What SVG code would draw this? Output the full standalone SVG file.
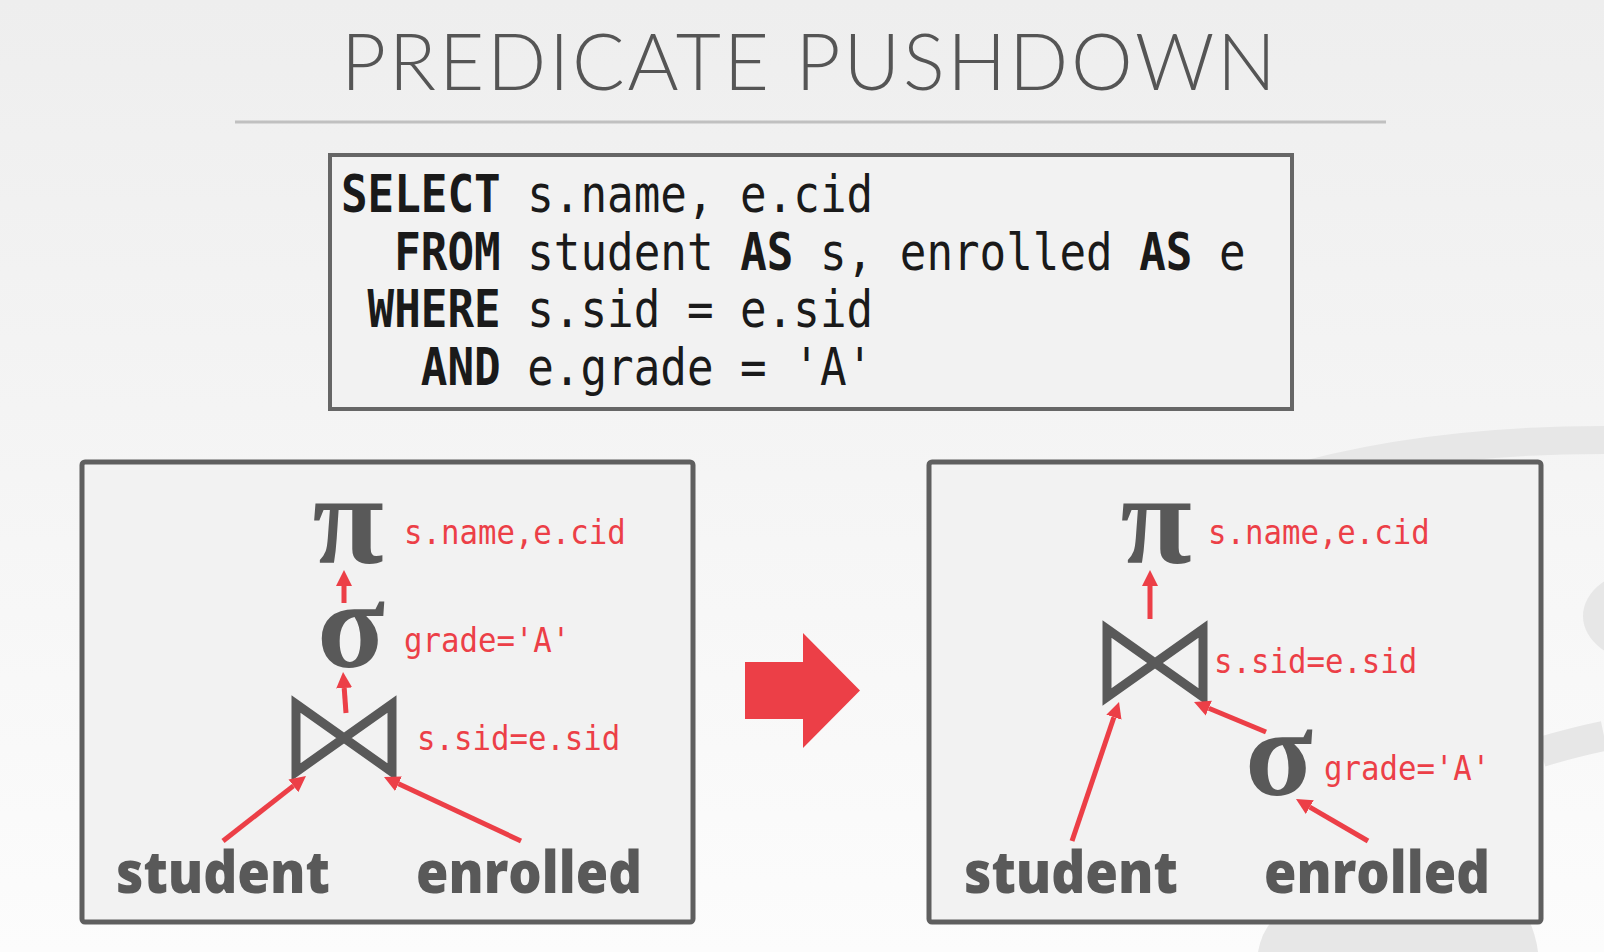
<svg xmlns="http://www.w3.org/2000/svg" width="1604" height="952" viewBox="0 0 1604 952">
<defs>
<linearGradient id="bg" x1="0" y1="0" x2="0" y2="1">
<stop offset="0" stop-color="#eeeeee"/>
<stop offset="1" stop-color="#fcfcfc"/>
</linearGradient>
<marker id="ah" viewBox="0 0 10 10" refX="0" refY="5" markerWidth="16" markerHeight="17" markerUnits="userSpaceOnUse" orient="auto">
<path d="M0,0 L10,5 L0,10 Z" fill="#ec3f47"/>
</marker>
<style>
.panel{fill:#f2f2f2;stroke:#5f5f5f;stroke-width:5}
.code{font-family:"DejaVu Sans Mono","Liberation Mono",monospace;font-size:44.2px;fill:#1a1a1a}
.kw{font-weight:bold}
.lbl{font-family:"DejaVu Sans Mono","Liberation Mono",monospace;font-size:30.7px;fill:#ec3f47}
.op{font-family:"Liberation Serif","DejaVu Serif",serif;font-weight:bold;fill:#595959}
.rel{font-family:"Open Sans","Noto Sans",sans-serif;font-weight:800;font-size:58px;fill:#595959}
.edge{stroke:#ec3f47;stroke-width:5;fill:none;marker-end:url(#ah)}
.bow{fill:none;stroke:#595959;stroke-width:9;stroke-linejoin:miter}
.deco{fill:none;stroke:#e7e7e7}
</style>
</defs>
<rect x="0" y="0" width="1604" height="952" fill="url(#bg)"/>
<g id="background-decoration">
<path class="deco" d="M1280,482 Q1420,440 1604,440" stroke-width="28"/>
<path class="deco" d="M1541,752 Q1575,742 1604,736" stroke-width="30"/>
<ellipse cx="1645" cy="616" rx="62" ry="46" fill="#e7e7e7"/>
<path d="M1258,952 Q1262,930 1275,918 L1528,918 Q1536,935 1538,952 Z" fill="#e7e7e7"/>
</g>
<g id="title">
<text x="341" y="90" font-family="Lato,'Open Sans',sans-serif" font-weight="300" font-size="78" fill="#555555" textLength="935" lengthAdjust="spacing">PREDICATE PUSHDOWN</text>
<line x1="235" y1="122" x2="1386" y2="122" stroke="#c0c0c0" stroke-width="3"/>
</g>
<g id="sql-query">
<rect x="330" y="155" width="962" height="254" fill="#f2f2f2" stroke="#666666" stroke-width="4"/>
<text class="code" transform="translate(341,212) scale(1,1.15)" xml:space="preserve"><tspan class="kw">SELECT</tspan> s.name, e.cid</text>
<text class="code" transform="translate(341,270) scale(1,1.15)" xml:space="preserve"><tspan class="kw">  FROM</tspan> student <tspan class="kw">AS</tspan> s, enrolled <tspan class="kw">AS</tspan> e</text>
<text class="code" transform="translate(341,327) scale(1,1.15)" xml:space="preserve"><tspan class="kw"> WHERE</tspan> s.sid = e.sid</text>
<text class="code" transform="translate(341,385) scale(1,1.15)" xml:space="preserve"><tspan class="kw">   AND</tspan> e.grade = 'A'</text>
</g>
<g id="left-plan">
<rect class="panel" x="82" y="462" width="611" height="460" rx="3"/>
</g>
<g id="right-plan">
<rect class="panel" x="929" y="462" width="612" height="460" rx="3"/>
</g>
<g id="transform-arrow">
<path d="M745,662 L803,662 L803,633 L860,690.5 L803,748 L803,719 L745,719 Z" fill="#ec3f47"/>
</g>
<g id="L-projection">
<text class="op" x="348" y="563" font-size="130" text-anchor="middle">π</text>
<text class="lbl" transform="translate(404,544) scale(1,1.1)">s.name,e.cid</text>
</g>
<g id="L-selection">
<text class="op" x="351" y="667" font-size="125" text-anchor="middle">σ</text>
<text class="lbl" transform="translate(404,652) scale(1,1.1)">grade='A'</text>
</g>
<g id="L-join">
<path class="bow" d="M296,704 L392,772 L392,704 L296,772 Z"/>
<text class="lbl" transform="translate(417,750) scale(1,1.1)">s.sid=e.sid</text>
</g>
<g id="L-student">
<text class="rel" x="116" y="893" textLength="214" lengthAdjust="spacingAndGlyphs">student</text>
</g>
<g id="L-enrolled">
<text class="rel" x="416" y="893" textLength="226" lengthAdjust="spacingAndGlyphs">enrolled</text>
</g>
<g id="R-projection">
<text class="op" x="1156" y="563" font-size="130" text-anchor="middle">π</text>
<text class="lbl" transform="translate(1208,544) scale(1,1.1)">s.name,e.cid</text>
</g>
<g id="R-join">
<path class="bow" d="M1107,629 L1203,697 L1203,629 L1107,697 Z"/>
<text class="lbl" transform="translate(1214,673) scale(1,1.1)">s.sid=e.sid</text>
</g>
<g id="R-selection">
<text class="op" x="1279" y="795" font-size="125" text-anchor="middle">σ</text>
<text class="lbl" transform="translate(1324,780) scale(1,1.1)">grade='A'</text>
</g>
<g id="R-student">
<text class="rel" x="964" y="893" textLength="214" lengthAdjust="spacingAndGlyphs">student</text>
</g>
<g id="R-enrolled">
<text class="rel" x="1264" y="893" textLength="226" lengthAdjust="spacingAndGlyphs">enrolled</text>
</g>
<g id="connectors">
<line class="edge" x1="344" y1="603" x2="344" y2="586"/>
<line class="edge" x1="346" y1="713" x2="344.2" y2="688"/>
<line class="edge" x1="223" y1="841" x2="293.4" y2="785.9"/>
<line class="edge" x1="521" y1="841" x2="398.5" y2="783.8"/>
<line class="edge" x1="1150" y1="619" x2="1150" y2="586"/>
<line class="edge" x1="1072" y1="841" x2="1113.9" y2="717.2"/>
<line class="edge" x1="1266" y1="732" x2="1208.8" y2="708.2"/>
<line class="edge" x1="1368" y1="841" x2="1309.8" y2="807.1"/>
</g>
</svg>
